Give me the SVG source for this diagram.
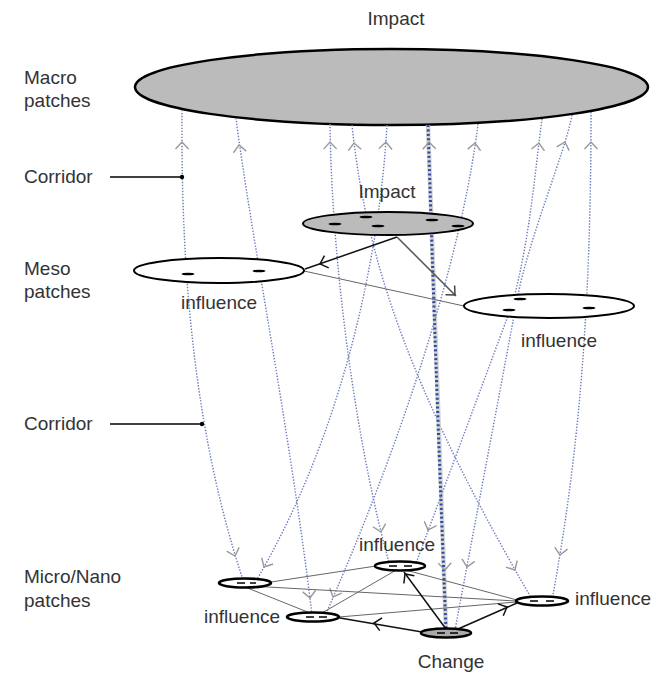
<svg xmlns="http://www.w3.org/2000/svg" width="659" height="673" viewBox="0 0 659 673">
<style>
text{font-family:"Liberation Sans",Arial,Helvetica,sans-serif;font-size:19px;fill:#333}
.mid{text-anchor:middle}
.cor{fill:none;stroke:#6a7cbc;stroke-width:1.4;stroke-dasharray:1.4 1.6}
.corT{fill:none;stroke:#2d4a9c;stroke-width:3;stroke-dasharray:2 2.4}
.halo{fill:none;stroke:#d4d4d4;stroke-width:4.5}
.chev{fill:none;stroke:#999;stroke-width:1.4}
.ach{fill:none;stroke:#111;stroke-width:1.5}
.thin{fill:none;stroke:#666;stroke-width:1}
.conn{fill:none;stroke:#111;stroke-width:1.5}
.mac{fill:#bbb;stroke:#000;stroke-width:2.5}
.meso{fill:#fff;stroke:#000;stroke-width:2}
.mesoG{fill:#bbb;stroke:#000;stroke-width:2}
.mic{fill:#fff;stroke:#000;stroke-width:2.6}
.micG{fill:#aaa;stroke:#000;stroke-width:2.6}
.dash{fill:#000}
.lead{fill:none;stroke:#000;stroke-width:1.3}
</style>
<defs>
<path id="ch" d="M-6.5,7 L0,0 L6.5,7"/>
</defs>

<g id="labels">
<text x="396" y="25" class="mid">Impact</text>
<text x="24" y="84">Macro</text>
<text x="24" y="107">patches</text>
<text x="24" y="183">Corridor</text>
<text x="24" y="275">Meso</text>
<text x="24" y="298">patches</text>
<text x="24" y="430">Corridor</text>
<text x="24" y="583">Micro/Nano</text>
<text x="24" y="607">patches</text>
</g>

<g id="macro">
<ellipse cx="391.5" cy="87" rx="256.5" ry="38" class="mac"/>
</g>

<g id="connectors">
<path class="cor" d="M182,110 C181,250 190,420 243,580"/>
<path class="cor" d="M236,118 C250,230 290,430 312,615"/>
<path class="cor" d="M330,124 C332,280 360,460 390,566"/>
<path class="cor" d="M352,125 C366,260 410,390 533,601"/>
<path class="cor" d="M387,125 C380,250 345,430 256,581"/>
<path class="halo" d="M428,125 Q436,380 446,630"/>
<path class="corT" d="M428,125 Q436,380 446,630"/>
<path class="cor" d="M478,124 C465,230 420,400 325,616"/>
<path class="cor" d="M542,119 C535,170 530,240 512,305 L415,566"/>
<path class="cor" d="M572,115 C566,150 528,240 517,300 L455,630"/>
<path class="cor" d="M591,112 C591,300 580,450 552,600"/>

<use href="#ch" class="chev" transform="translate(182,142)"/>
<use href="#ch" class="chev" transform="translate(239,145) rotate(-7)"/>
<use href="#ch" class="chev" transform="translate(330,142) rotate(-1)"/>
<use href="#ch" class="chev" transform="translate(354,143) rotate(-6)"/>
<use href="#ch" class="chev" transform="translate(386,142) rotate(4)"/>
<use href="#ch" class="chev" transform="translate(429,142) rotate(-2)"/>
<use href="#ch" class="chev" transform="translate(475,143) rotate(7)"/>
<use href="#ch" class="chev" transform="translate(539,143) rotate(8)"/>
<use href="#ch" class="chev" transform="translate(565,142) rotate(17)"/>
<use href="#ch" class="chev" transform="translate(591,142)"/>

<use href="#ch" class="chev" transform="translate(235,556) rotate(163)"/>
<use href="#ch" class="chev" transform="translate(310,598) rotate(173)"/>
<use href="#ch" class="chev" transform="translate(381,532) rotate(166)"/>
<use href="#ch" class="chev" transform="translate(515,570) rotate(150)"/>
<use href="#ch" class="chev" transform="translate(264,567) rotate(209)"/>
<use href="#ch" class="chev" transform="translate(445,570) rotate(178)"/>
<use href="#ch" class="chev" transform="translate(333,597) rotate(203)"/>
<use href="#ch" class="chev" transform="translate(428,530) rotate(200)"/>
<use href="#ch" class="chev" transform="translate(467,567) rotate(191)"/>
<use href="#ch" class="chev" transform="translate(560,555) rotate(189)"/>

<path class="lead" d="M110,177 L182,177"/>
<circle cx="182" cy="177" r="2.2" fill="#000"/>
<path class="lead" d="M110,424 L202,424"/>
<circle cx="202" cy="424" r="2.2" fill="#000"/>

<path class="conn" d="M397,237 L305,269"/>
<use href="#ch" class="ach" transform="translate(320,264) rotate(-109)"/>
<path class="conn" style="stroke:#555" d="M397,237 L456,296"/>
<use href="#ch" class="ach" style="stroke:#444" transform="translate(455,295) rotate(135)"/>
<path class="thin" d="M304,271 L464,306"/>

<path class="thin" d="M271,582 L376,566"/>
<path class="thin" d="M245,587 L310,613"/>
<path class="thin" d="M250,586 L516,601"/>
<path class="thin" d="M322,613 L398,569"/>
<path class="thin" d="M339,617 L516,602"/>
<path class="thin" d="M402,569 L517,600"/>
<path class="conn" d="M446,629 L404,572"/>
<use href="#ch" class="ach" transform="translate(405,574) rotate(-36)"/>
<path class="conn" d="M422,632 L340,618"/>
<use href="#ch" class="ach" transform="translate(374,623) rotate(-80)"/>
<path class="conn" d="M458,629 L517,603"/>
<use href="#ch" class="ach" transform="translate(507,607) rotate(66)"/>
</g>

<g id="meso-impact">
<ellipse cx="388" cy="223.5" rx="85" ry="11.5" class="mesoG"/>
<ellipse cx="335" cy="224" rx="6.5" ry="1.3" class="dash"/>
<ellipse cx="366" cy="217" rx="6.5" ry="1.3" class="dash"/>
<ellipse cx="378" cy="226" rx="6.5" ry="1.3" class="dash"/>
<ellipse cx="432" cy="220" rx="6.5" ry="1.3" class="dash"/>
<ellipse cx="458" cy="226" rx="6.5" ry="1.3" class="dash"/>
<text x="387" y="198" class="mid">Impact</text>
</g>

<g id="meso-left">
<ellipse cx="219" cy="270.5" rx="85" ry="12.5" class="meso"/>
<ellipse cx="188" cy="274" rx="6.5" ry="1.3" class="dash"/>
<ellipse cx="259" cy="271" rx="6.5" ry="1.3" class="dash"/>
<text x="219" y="309" class="mid">influence</text>
</g>

<g id="meso-right">
<ellipse cx="549" cy="306" rx="85" ry="12" class="meso"/>
<ellipse cx="520" cy="299" rx="6.5" ry="1.3" class="dash"/>
<ellipse cx="509" cy="310" rx="6.5" ry="1.3" class="dash"/>
<ellipse cx="589" cy="308" rx="6.5" ry="1.3" class="dash"/>
<text x="559" y="347" class="mid">influence</text>
</g>

<g id="micro-a">
<ellipse cx="245" cy="583" rx="26" ry="4.5" class="mic"/>
<path d="M237,583 h8 M250,583 h6" stroke="#000" stroke-width="1.5"/>
</g>

<g id="micro-b">
<ellipse cx="400" cy="566" rx="25" ry="4.5" class="mic"/>
<path d="M389,566 h8 M404,566 h8" stroke="#000" stroke-width="1.5"/>
<text x="397" y="551" class="mid">influence</text>
</g>

<g id="micro-c">
<ellipse cx="313" cy="617" rx="26" ry="4.5" class="mic"/>
<path d="M306,617 h8 M319,617 h8" stroke="#000" stroke-width="1.5"/>
<text x="242" y="623" class="mid">influence</text>
</g>

<g id="micro-d">
<ellipse cx="542" cy="601" rx="26" ry="4.5" class="mic"/>
<path d="M530,601 h8 M546,601 h8" stroke="#000" stroke-width="1.5"/>
<text x="575" y="605">influence</text>
</g>

<g id="micro-e">
<ellipse cx="446" cy="633" rx="25" ry="4.5" class="micG"/>
<path d="M437,633 h8 M450,633 h8" stroke="#000" stroke-width="1.5"/>
<text x="451" y="668" class="mid">Change</text>
</g>
</svg>
